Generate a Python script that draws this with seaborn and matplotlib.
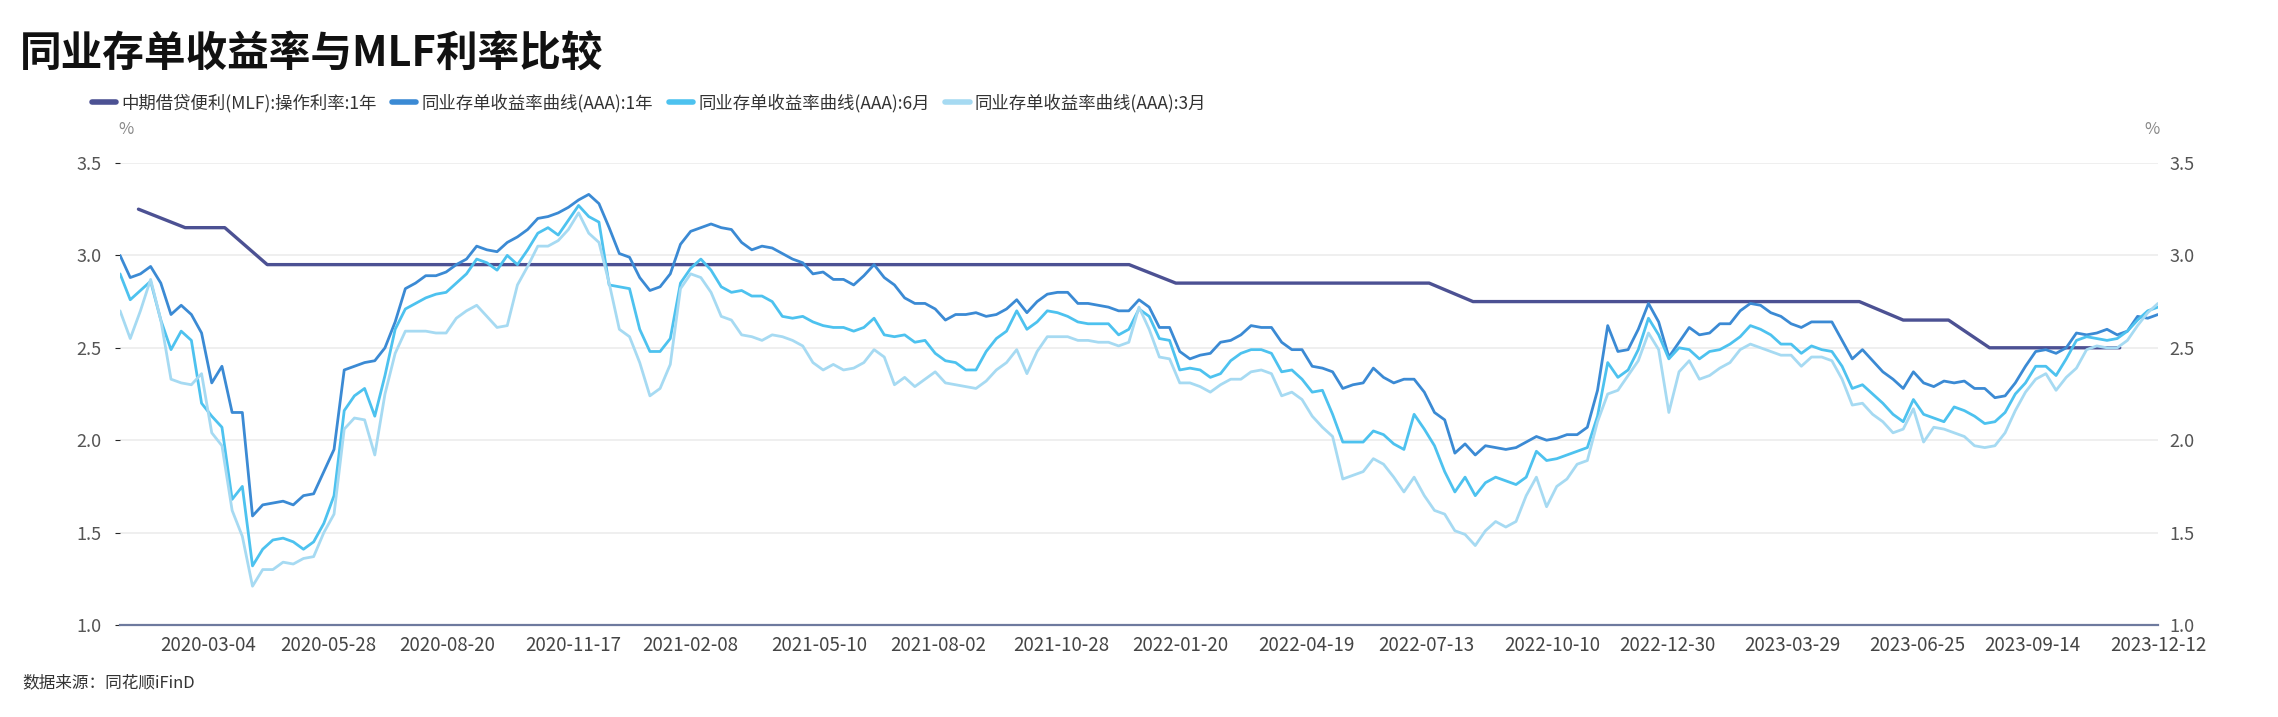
import pandas as pd
import matplotlib
matplotlib.use('Agg')
import matplotlib.pyplot as plt
from matplotlib.lines import Line2D
from matplotlib.ticker import FormatStrFormatter
import seaborn as sns

title = '同业存单收益率与MLF利率比较'
source = '数据来源：同花顺iFinD'
names = ['中期借贷便利(MLF):操作利率:1年',
         '同业存单收益率曲线(AAA):1年',
         '同业存单收益率曲线(AAA):6月',
         '同业存单收益率曲线(AAA):3月']
colors = ['#4c5193', '#3b8ad4', '#4dc2ef', '#a6daf2']

tick_labels = ['2020-03-04', '2020-05-28', '2020-08-20', '2020-11-17', '2021-02-08',
               '2021-05-10', '2021-08-02', '2021-10-28', '2022-01-20', '2022-04-19',
               '2022-07-13', '2022-10-10', '2022-12-30', '2023-03-29', '2023-06-25',
               '2023-09-14', '2023-12-12']

# MLF operation dates / 1Y rate
mlf_dates = ['2020-01-15', '2020-02-17', '2020-03-16', '2020-04-15', '2020-05-15', '2020-06-15',
             '2020-07-15', '2020-08-17', '2020-09-15', '2020-10-15', '2020-11-16', '2020-12-15',
             '2021-01-15', '2021-02-18', '2021-03-15', '2021-04-15', '2021-05-17', '2021-06-15',
             '2021-07-15', '2021-08-16', '2021-09-15', '2021-10-15', '2021-11-15', '2021-12-15',
             '2022-01-17', '2022-02-15', '2022-03-15', '2022-04-15', '2022-05-16', '2022-06-15',
             '2022-07-15', '2022-08-15', '2022-09-15', '2022-10-17', '2022-11-15', '2022-12-15',
             '2023-01-17', '2023-02-15', '2023-03-15', '2023-04-17', '2023-05-15', '2023-06-15',
             '2023-07-17', '2023-08-15', '2023-09-15', '2023-10-16', '2023-11-15']
mlf_rate = [3.25, 3.15, 3.15, 2.95, 2.95, 2.95,
            2.95, 2.95, 2.95, 2.95, 2.95, 2.95,
            2.95, 2.95, 2.95, 2.95, 2.95, 2.95,
            2.95, 2.95, 2.95, 2.95, 2.95, 2.95,
            2.85, 2.85, 2.85, 2.85, 2.85, 2.85,
            2.85, 2.75, 2.75, 2.75, 2.75, 2.75,
            2.75, 2.75, 2.75, 2.75, 2.75, 2.65,
            2.65, 2.50, 2.50, 2.50, 2.50]

# NCD yields, roughly weekly from 2020-01-02 to 2023-12-12
ncd_1y = [3.00, 2.88, 2.90, 2.94, 2.85, 2.68, 2.73, 2.68, 2.58, 2.31, 2.40, 2.15, 2.15, 1.59,
          1.65, 1.66, 1.67, 1.65, 1.70, 1.71, 1.83, 1.95, 2.38, 2.40, 2.42, 2.43, 2.50,
          2.64, 2.82, 2.85, 2.89, 2.89, 2.91, 2.95, 2.98, 3.05, 3.03, 3.02, 3.07, 3.10,
          3.14, 3.20, 3.21, 3.23, 3.26, 3.30, 3.33, 3.28, 3.15, 3.01, 2.99, 2.88,
          2.81, 2.83, 2.90, 3.06, 3.13, 3.15, 3.17, 3.15, 3.14, 3.07, 3.03, 3.05, 3.04,
          3.01, 2.98, 2.96, 2.90, 2.91, 2.87, 2.87, 2.84, 2.89, 2.95, 2.88, 2.84,
          2.77, 2.74, 2.74, 2.71, 2.65, 2.68, 2.68, 2.69, 2.67, 2.68, 2.71, 2.76, 2.69,
          2.75, 2.79, 2.80, 2.80, 2.74, 2.74, 2.73, 2.72, 2.70, 2.70, 2.76, 2.72, 2.61,
          2.61, 2.48, 2.44, 2.46, 2.47, 2.53, 2.54, 2.57, 2.62, 2.61, 2.61, 2.53, 2.49,
          2.49, 2.40, 2.39, 2.37, 2.28, 2.30, 2.31, 2.39, 2.34, 2.31, 2.33, 2.33,
          2.26, 2.15, 2.11, 1.93, 1.98, 1.92, 1.97, 1.96, 1.95, 1.96, 1.99, 2.02, 2.00,
          2.01, 2.03, 2.03, 2.07, 2.27, 2.62, 2.48, 2.49, 2.60, 2.74, 2.64, 2.45, 2.53,
          2.61, 2.57, 2.58, 2.63, 2.63, 2.70, 2.74, 2.73, 2.69, 2.67, 2.63, 2.61, 2.64,
          2.64, 2.64, 2.54, 2.44, 2.49, 2.43, 2.37, 2.33, 2.28, 2.37, 2.31, 2.29,
          2.32, 2.31, 2.32, 2.28, 2.28, 2.23, 2.24, 2.31, 2.40, 2.48, 2.49, 2.47, 2.50,
          2.58, 2.57, 2.58, 2.60, 2.57, 2.59, 2.67, 2.66, 2.68]
ncd_6m = [2.90, 2.76, 2.81, 2.86, 2.65, 2.49, 2.59, 2.54, 2.20, 2.13, 2.07, 1.68, 1.75, 1.32,
          1.41, 1.46, 1.47, 1.45, 1.41, 1.45, 1.55, 1.70, 2.16, 2.24, 2.28, 2.13, 2.35,
          2.60, 2.71, 2.74, 2.77, 2.79, 2.80, 2.85, 2.90, 2.98, 2.96, 2.92, 3.00, 2.95,
          3.03, 3.12, 3.15, 3.11, 3.19, 3.27, 3.21, 3.18, 2.84, 2.83, 2.82, 2.60,
          2.48, 2.48, 2.55, 2.85, 2.93, 2.98, 2.92, 2.83, 2.80, 2.81, 2.78, 2.78, 2.75,
          2.67, 2.66, 2.67, 2.64, 2.62, 2.61, 2.61, 2.59, 2.61, 2.66, 2.57, 2.56,
          2.57, 2.53, 2.54, 2.47, 2.43, 2.42, 2.38, 2.38, 2.48, 2.55, 2.59, 2.70, 2.60,
          2.64, 2.70, 2.69, 2.67, 2.64, 2.63, 2.63, 2.63, 2.57, 2.60, 2.71, 2.67, 2.55,
          2.54, 2.38, 2.39, 2.38, 2.34, 2.36, 2.43, 2.47, 2.49, 2.49, 2.47, 2.37, 2.38,
          2.33, 2.26, 2.27, 2.14, 1.99, 1.99, 1.99, 2.05, 2.03, 1.98, 1.95, 2.14,
          2.06, 1.97, 1.83, 1.72, 1.80, 1.70, 1.77, 1.80, 1.78, 1.76, 1.80, 1.94, 1.89,
          1.90, 1.92, 1.94, 1.96, 2.13, 2.42, 2.34, 2.38, 2.49, 2.66, 2.57, 2.44, 2.50,
          2.49, 2.44, 2.48, 2.49, 2.52, 2.56, 2.62, 2.60, 2.57, 2.52, 2.52, 2.47, 2.51,
          2.49, 2.48, 2.40, 2.28, 2.30, 2.25, 2.20, 2.14, 2.10, 2.22, 2.14, 2.12,
          2.10, 2.18, 2.16, 2.13, 2.09, 2.10, 2.15, 2.25, 2.31, 2.40, 2.40, 2.35, 2.44,
          2.54, 2.56, 2.55, 2.54, 2.55, 2.59, 2.65, 2.70, 2.72]
ncd_3m = [2.70, 2.55, 2.70, 2.87, 2.65, 2.33, 2.31, 2.30, 2.36, 2.04, 1.97, 1.62, 1.48, 1.21,
          1.30, 1.30, 1.34, 1.33, 1.36, 1.37, 1.50, 1.60, 2.06, 2.12, 2.11, 1.92, 2.25,
          2.47, 2.59, 2.59, 2.59, 2.58, 2.58, 2.66, 2.70, 2.73, 2.67, 2.61, 2.62, 2.84,
          2.94, 3.05, 3.05, 3.08, 3.14, 3.23, 3.12, 3.07, 2.85, 2.60, 2.56, 2.42,
          2.24, 2.28, 2.41, 2.82, 2.90, 2.88, 2.80, 2.67, 2.65, 2.57, 2.56, 2.54, 2.57,
          2.56, 2.54, 2.51, 2.42, 2.38, 2.41, 2.38, 2.39, 2.42, 2.49, 2.45, 2.30,
          2.34, 2.29, 2.33, 2.37, 2.31, 2.30, 2.29, 2.28, 2.32, 2.38, 2.42, 2.49, 2.36,
          2.48, 2.56, 2.56, 2.56, 2.54, 2.54, 2.53, 2.53, 2.51, 2.53, 2.72, 2.60, 2.45,
          2.44, 2.31, 2.31, 2.29, 2.26, 2.30, 2.33, 2.33, 2.37, 2.38, 2.36, 2.24, 2.26,
          2.22, 2.13, 2.07, 2.02, 1.79, 1.81, 1.83, 1.90, 1.87, 1.80, 1.72, 1.80,
          1.70, 1.62, 1.60, 1.51, 1.49, 1.43, 1.51, 1.56, 1.53, 1.56, 1.70, 1.80, 1.64,
          1.75, 1.79, 1.87, 1.89, 2.10, 2.25, 2.27, 2.35, 2.43, 2.58, 2.49, 2.15, 2.37,
          2.43, 2.33, 2.35, 2.39, 2.42, 2.49, 2.52, 2.50, 2.48, 2.46, 2.46, 2.40, 2.45,
          2.45, 2.43, 2.33, 2.19, 2.20, 2.14, 2.10, 2.04, 2.06, 2.17, 1.99, 2.07,
          2.06, 2.04, 2.02, 1.97, 1.96, 1.97, 2.04, 2.16, 2.26, 2.33, 2.36, 2.27, 2.34,
          2.39, 2.49, 2.51, 2.50, 2.50, 2.54, 2.62, 2.69, 2.74]

dates = pd.date_range('2020-01-02', '2023-12-12', periods=len(ncd_1y))
ncd = pd.DataFrame({'date': dates, names[1]: ncd_1y, names[2]: ncd_6m, names[3]: ncd_3m})
ncd = ncd.melt(id_vars='date', var_name='series', value_name='rate')
mlf = pd.DataFrame({'date': pd.to_datetime(mlf_dates), 'rate': mlf_rate})

sns.set_style('white')
plt.rcParams['font.family'] = ['Noto Sans CJK SC', 'DejaVu Sans']

fig = plt.figure(figsize=(22.78, 7.17), dpi=100)
ax = fig.add_axes([0.0527, 0.1283, 0.8946, 0.6444])

sns.lineplot(data=mlf, x='date', y='rate', color=colors[0], lw=2.4, ax=ax, legend=False)
sns.lineplot(data=ncd, x='date', y='rate', hue='series', hue_order=names[1:],
             palette=colors[1:], lw=2.0, ax=ax, legend=False)

ax.set_xlim(dates[0], dates[-1])
ax.set_ylim(1.0, 3.5)
ax.set_yticks([1.0, 1.5, 2.0, 2.5, 3.0, 3.5])
ax.yaxis.set_major_formatter(FormatStrFormatter('%.1f'))
ax.set_xticks(pd.to_datetime(tick_labels))
ax.set_xticklabels(tick_labels)
ax.set_xlabel('')
ax.set_ylabel('')
ax.grid(axis='y', color='#ececec', lw=1.2)
ax.grid(axis='x', visible=False)
for side in ['top', 'left', 'right']:
    ax.spines[side].set_visible(False)
ax.spines['bottom'].set_color('#6e7a9e')
ax.spines['bottom'].set_linewidth(1.6)
ax.tick_params(axis='x', bottom=False, labelsize=13.5, labelcolor='#444444', pad=4)
ax.tick_params(axis='y', left=False, labelsize=13, labelcolor='#555555', pad=10)

ax2 = ax.twinx()
ax2.set_ylim(ax.get_ylim())
ax2.set_yticks(ax.get_yticks())
ax2.yaxis.set_major_formatter(FormatStrFormatter('%.1f'))
for s in ax2.spines.values():
    s.set_visible(False)
ax2.tick_params(axis='y', right=False, labelsize=13, labelcolor='#555555', pad=5)
ax2.grid(False)

handles = [Line2D([], [], color=c, lw=4) for c in colors]
fig.legend(handles, names, loc='center left', bbox_to_anchor=(76 / 2278, 1 - 103 / 717),
           ncol=4, frameon=False, fontsize=12.5, handlelength=1.4, handletextpad=0.3,
           columnspacing=0.9, labelcolor='#333333')

fig.text(20 / 2278, 1 - 55 / 717, title, fontsize=30, fontweight='heavy', color='#111111',
         ha='left', va='center')
fig.text(126 / 2278, 1 - 130 / 717, '%', fontsize=12, color='#888888', ha='center', va='center')
fig.text(2152 / 2278, 1 - 130 / 717, '%', fontsize=12, color='#888888', ha='center', va='center')
fig.text(22 / 2278, 1 - 683 / 717, source, fontsize=12, color='#333333', ha='left', va='center')

fig.savefig('out.png', dpi=100)
